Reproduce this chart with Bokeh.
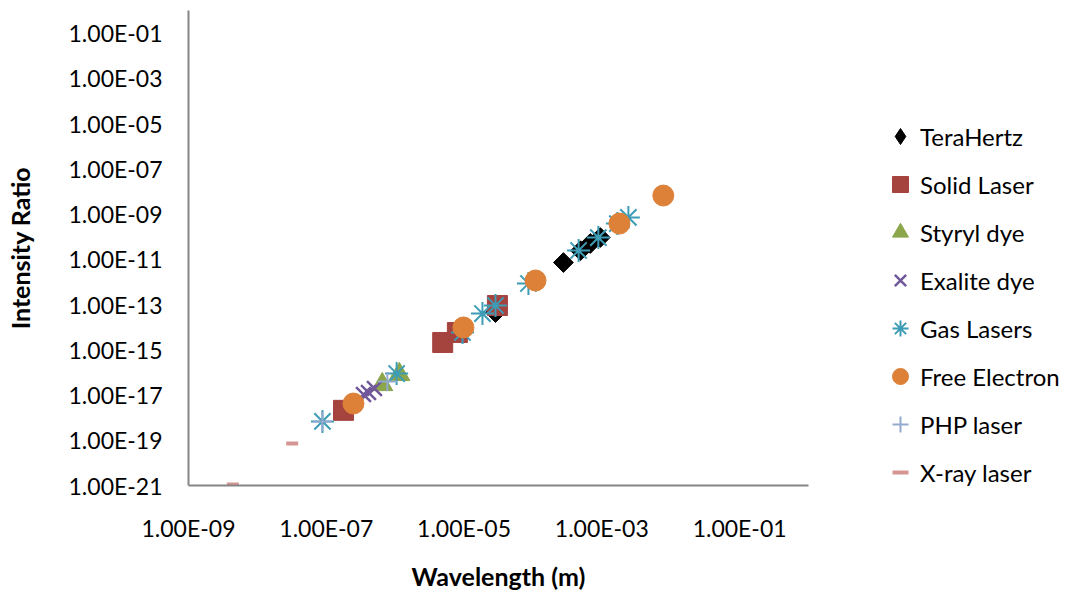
import math
from bokeh.plotting import figure
from bokeh.models import Legend, LegendItem, FixedTicker, CustomJSTickFormatter
from bokeh.embed import file_html
from bokeh.resources import INLINE

# ---- data (wavelength m, intensity ratio) ----
thz_x = [2.77e-4, 4.9e-4, 6.8e-4, 9.5e-4, 2.86e-5]
thz_y = [7.2e-12, 2.4e-11, 5.0e-11, 9.2e-11, 4.4e-14]

solid_x = [4.9e-6, 8.0e-6, 1.78e-7, 3.05e-5]
solid_y = [2.1e-15, 5.8e-15, 2.1e-18, 9.1e-14]

styryl_x = [6.5e-7, 1.15e-6]
styryl_y = [2.9e-17, 8.1e-17]

exalite_x = [3.47e-7, 4.1e-7, 5.0e-7]
exalite_y = [1.05e-17, 1.3e-17, 1.95e-17]

gas_x = [8.8e-8, 1.05e-6, 9.5e-6, 1.85e-5, 2.86e-5, 8.6e-5, 4.6e-4, 8.9e-4, 1.68e-3, 2.43e-3]
gas_y = [6.8e-19, 8.9e-17, 5.8e-15, 4.0e-14, 9.1e-14, 8.5e-13, 2.45e-11, 9.1e-11, 3.8e-10, 7.1e-10]

fel_x = [2.48e-7, 9.8e-6, 1.09e-4, 1.8e-3, 7.8e-3]
fel_y = [4.2e-18, 9.7e-15, 1.16e-12, 3.8e-10, 6.6e-9]

php_x = [8.8e-8, 7.7e-7]
php_y = [6.8e-19, 4.0e-17]

xray_x = [4.4e-9, 3.2e-8]
xray_y = [1.1e-21, 7.2e-20]

x_ticks = [1e-9, 1e-7, 1e-5, 1e-3, 1e-1]
y_ticks = [1e-21, 1e-19, 1e-17, 1e-15, 1e-13, 1e-11, 1e-9, 1e-7, 1e-5, 1e-3, 1e-1]

FONT = "Lato"

p = figure(width=1052, height=585, x_axis_type="log", y_axis_type="log",
           x_range=(1e-9, 1e0), y_range=(1e-21, 1e0),
           output_backend="svg", toolbar_location=None,
           min_border_left=188, min_border_top=10, min_border_right=10,
           min_border_bottom=100)
p.frame_width = 620
p.frame_height = 475
p.outline_line_color = None
p.background_fill_color = "white"
p.grid.visible = False

fmt = CustomJSTickFormatter(code="""
const e = Math.round(Math.log10(tick));
const s = Math.abs(e) < 10 ? '0' + Math.abs(e) : '' + Math.abs(e);
return '1.00E' + (e < 0 ? '-' : '+') + s;
""")

for ax, ticks in ((p.xaxis[0], x_ticks), (p.yaxis[0], y_ticks)):
    ax.ticker = FixedTicker(ticks=ticks)
    ax.formatter = fmt
    ax.axis_line_color = "#868686"
    ax.axis_line_width = 2
    ax.major_tick_line_color = None
    ax.minor_tick_line_color = None
    ax.major_tick_out = 0
    ax.major_tick_in = 0
    ax.minor_tick_out = 0
    ax.minor_tick_in = 0
    ax.major_label_text_font = FONT
    ax.major_label_text_font_size = "23px"
    ax.major_label_text_color = "#000000"
    ax.axis_label_text_font = FONT
    ax.axis_label_text_font_style = "bold"
    ax.axis_label_text_font_size = "25px"
    ax.axis_label_text_color = "#000000"

p.xaxis.axis_label = "Wavelength (m)"
p.yaxis.axis_label = "Intensity Ratio"
p.xaxis.major_label_standoff = 28
p.yaxis.major_label_standoff = 26
p.xaxis.axis_label_standoff = 16
p.yaxis.axis_label_standoff = 31

r_thz = p.scatter(thz_x, thz_y, marker="square", angle=math.pi / 4, size=14,
                  color="#000000")
r_solid = p.scatter(solid_x, solid_y, marker="square", size=20, color="#A5433F")
r_sty = p.scatter(styryl_x, styryl_y, marker="triangle", size=21, color="#8BA64B")
r_exa = p.scatter(exalite_x, exalite_y, marker="x", size=21, line_color="#71589A",
                  fill_color=None, line_width=2.5)
r_gas = p.scatter(gas_x, gas_y, marker="asterisk", size=23, line_color="#3D9CB6",
                  line_width=2)
r_fel = p.scatter(fel_x, fel_y, marker="circle", size=21, color="#DE8138")
r_php = p.scatter(php_x, php_y, marker="cross", size=19, line_color="#93A9CF",
                  line_width=2)
r_xray = p.scatter(xray_x, xray_y, marker="dash", size=12, line_color="#D49593",
                   line_width=4)

# hidden legend key for the diamond (legend glyphs ignore the marker angle)
r_thz_key = p.scatter(thz_x, thz_y, marker="diamond", color="#000000", visible=False)

items = [("TeraHertz", r_thz_key), ("Solid Laser", r_solid), ("Styryl dye", r_sty),
         ("Exalite dye", r_exa), ("Gas Lasers", r_gas), ("Free Electron", r_fel),
         ("PHP laser", r_php), ("X-ray laser", r_xray)]
legend = Legend(items=[LegendItem(label=l, renderers=[r]) for l, r in items],
                location=(72, -11), orientation="vertical",
                glyph_width=40, glyph_height=48, spacing=0, padding=0, margin=0,
                label_standoff=0, label_text_font=FONT, label_text_font_size="24px",
                label_text_color="#000000", border_line_color=None,
                background_fill_alpha=0)
p.add_layout(legend, "right")

open("out.html", "w").write(file_html(p, INLINE))
